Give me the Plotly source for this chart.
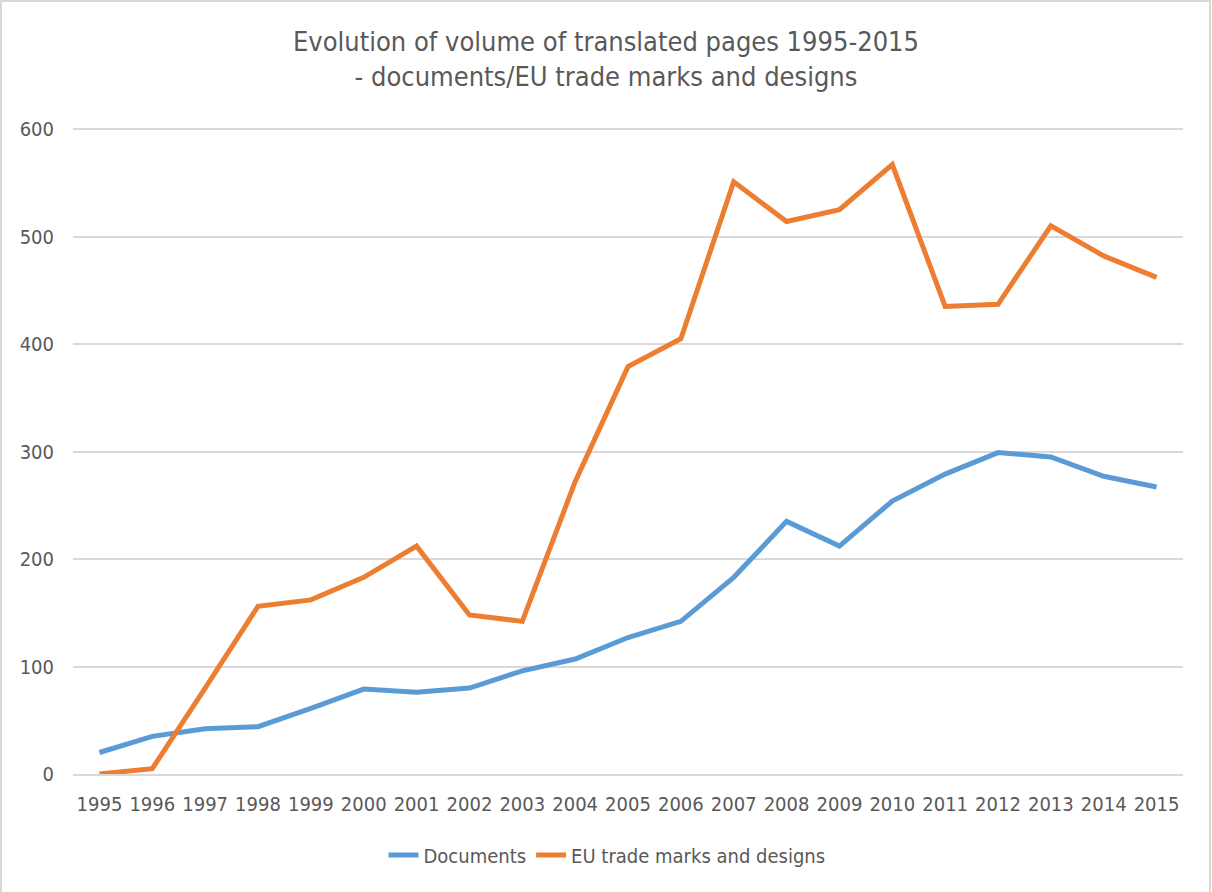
import plotly.graph_objects as go

years = [str(y) for y in range(1995, 2016)]
documents = [20, 35, 42, 44, 61, 79, 76, 80, 96, 107, 127, 142, 183, 235, 212, 254, 279, 299, 295, 277, 267]
trade_marks = [0, 5, 80, 156, 162, 183, 212, 148, 142, 272, 379, 405, 551, 514, 525, 567, 435, 437, 510, 482, 462]
y_ticks = [0, 100, 200, 300, 400, 500, 600]

FONT = "DejaVu Sans Condensed, Liberation Sans Narrow, Arial Narrow, sans-serif"
GREY = "#595959"

fig = go.Figure()
fig.add_trace(go.Scatter(x=years, y=documents, mode="lines", name="Documents",
                         line=dict(color="#5B9BD5", width=5)))
fig.add_trace(go.Scatter(x=years, y=trade_marks, mode="lines", name="EU trade marks and designs",
                         line=dict(color="#ED7D31", width=5)))

L, R, T, B = 73, 29, 128, 118
W, H = 1212, 892
pw, ph = W - L - R, H - T - B

fig.update_layout(
    width=W, height=H,
    margin=dict(l=L, r=R, t=T, b=B, autoexpand=False),
    paper_bgcolor="white", plot_bgcolor="white",
    font=dict(family=FONT, color=GREY, size=20),
    title=dict(text="Evolution of volume of translated pages 1995-2015<br>- documents/EU trade marks and designs",
               x=0.5, xref="container", xanchor="center", y=1 - 51 / H, yref="container", yanchor="middle",
               font=dict(family=FONT, size=27, color=GREY)),
    xaxis=dict(type="category", range=[-0.5, len(years) - 0.5], showgrid=False, showline=True,
               linecolor="#D9D9D9", linewidth=2, ticks="", tickangle=0,
               tickfont=dict(size=20, color=GREY), ticklabelstandoff=11),
    yaxis=dict(range=[0, 601], tickvals=y_ticks, showgrid=True, gridcolor="#D9D9D9", gridwidth=2,
               zeroline=False, showline=False, ticks="", tickfont=dict(size=20, color=GREY),
               ticklabelstandoff=18),
    legend=dict(orientation="h", x=607 / W, xref="container", xanchor="center",
                y=1 - 855 / H, yref="container", yanchor="middle", font=dict(size=20, color=GREY)),
    showlegend=True,
    shapes=[dict(type="rect", xref="paper", yref="paper",
                 x0=(1 - L) / pw, x1=(1210 - L) / pw, y0=(T + ph - 900) / ph, y1=(T + ph - 1) / ph,
                 line=dict(color="#D9D9D9", width=2), fillcolor="rgba(0,0,0,0)", layer="below")],
)

fig.write_html("out.html", config={"displayModeBar": False},
               post_script="document.body.style.margin='0';")
